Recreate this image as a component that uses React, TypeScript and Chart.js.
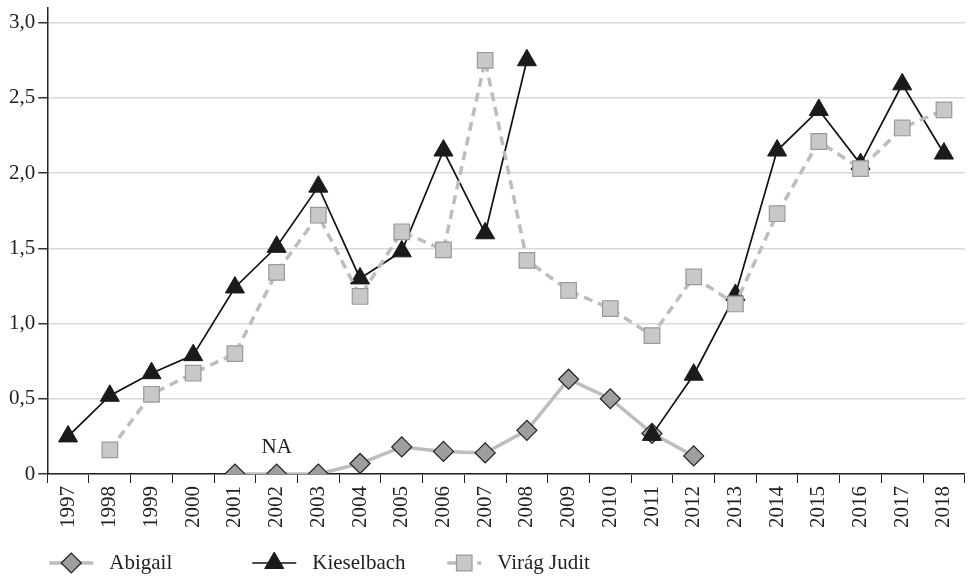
import React, { useEffect, useRef } from 'react';
import { Chart, registerables } from 'chart.js';
import { drawPoint } from 'chart.js/helpers';
Chart.register(...registerables);

const years = ['1997','1998','1999','2000','2001','2002','2003','2004','2005','2006','2007','2008','2009','2010','2011','2012','2013','2014','2015','2016','2017','2018'];
const abigail = [null,null,null,null,0,0,0,0.07,0.18,0.15,0.14,0.29,0.63,0.50,0.27,0.12,null,null,null,null,null,null];
const kieselbach = [0.25,0.52,0.67,0.79,1.24,1.51,1.91,1.30,1.48,2.15,1.60,2.75,null,null,0.26,0.66,1.19,2.15,2.42,2.06,2.59,2.13];
const viragJudit = [null,0.16,0.53,0.67,0.80,1.34,1.72,1.18,1.61,1.49,2.75,1.42,1.22,1.10,0.92,1.31,1.13,1.73,2.21,2.03,2.30,2.42];
const yTicks = [0, 0.5, 1.0, 1.5, 2.0, 2.5, 3.0];
const naLabel = { text: 'NA', category: '2002' };

const FONT = "'Liberation Serif', 'DejaVu Serif', serif";

const naPlugin = {
  id: 'naLabel',
  afterDatasetsDraw(chart: any) {
    const { ctx, scales } = chart;
    const x = scales.x.getPixelForValue(years.indexOf(naLabel.category));
    const y = scales.y.getPixelForValue(0) - 27;
    ctx.save();
    ctx.font = `21px ${FONT}`;
    ctx.fillStyle = '#222';
    ctx.textAlign = 'center';
    ctx.textBaseline = 'middle';
    ctx.fillText(naLabel.text, x, y);
    ctx.restore();
  },
};

const legendOffsets = [2, 205, 400];
const legendPlugin = {
  id: 'customLegend',
  afterDraw(chart: any) {
    const { ctx, chartArea } = chart;
    const y = chart.height - 15;
    ctx.save();
    chart.data.datasets.forEach((ds: any, i: number) => {
      const x0 = chartArea.left + legendOffsets[i];
      const lineW = i === 2 ? 34 : 44;
      ctx.save();
      ctx.strokeStyle = ds.borderColor;
      ctx.lineWidth = ds.borderWidth;
      ctx.setLineDash(ds.borderDash || []);
      ctx.beginPath();
      ctx.moveTo(x0, y);
      ctx.lineTo(x0 + lineW, y);
      ctx.stroke();
      ctx.setLineDash([]);
      ctx.fillStyle = ds.pointBackgroundColor;
      ctx.strokeStyle = ds.pointBorderColor;
      ctx.lineWidth = ds.pointBorderWidth;
      drawPoint(ctx, { pointStyle: ds.pointStyle, radius: ds.pointRadius, rotation: 0, borderWidth: ds.pointBorderWidth }, x0 + lineW / 2, y);
      ctx.restore();
      ctx.font = `21px ${FONT}`;
      ctx.fillStyle = '#222';
      ctx.textBaseline = 'middle';
      ctx.textAlign = 'left';
      ctx.fillText(ds.label, x0 + lineW + 16, y);
    });
    ctx.restore();
  },
};

export default function App() {
  const ref = useRef<HTMLCanvasElement>(null);
  useEffect(() => {
    document.body.style.margin = '0';
    document.body.style.overflow = 'hidden';
    const chart = new Chart(ref.current!, {
      type: 'line',
      data: {
        labels: years,
        datasets: [
          {
            label: 'Abigail',
            data: abigail,
            borderColor: '#bdbdbd',
            borderWidth: 3.5,
            pointStyle: 'rectRot',
            pointRadius: 10,
            pointHoverRadius: 10,
            pointBackgroundColor: '#9e9e9e',
            pointBorderColor: '#222',
            pointBorderWidth: 1.2,
            spanGaps: false,
            order: 3,
          },
          {
            label: 'Kieselbach',
            data: kieselbach,
            borderColor: '#111',
            borderWidth: 1.7,
            pointStyle: 'triangle',
            pointRadius: 11,
            pointHoverRadius: 11,
            pointBackgroundColor: '#1a1a1a',
            pointBorderColor: '#1a1a1a',
            pointBorderWidth: 1,
            spanGaps: false,
            order: 2,
          },
          {
            label: 'Virág Judit',
            data: viragJudit,
            borderColor: '#bdbdbd',
            borderWidth: 3.5,
            borderDash: [9, 6],
            pointStyle: 'rect',
            pointRadius: 11,
            pointHoverRadius: 11,
            pointBackgroundColor: '#c8c8c8',
            pointBorderColor: '#999',
            pointBorderWidth: 1.2,
            spanGaps: false,
            order: 1,
          },
        ],
      },
      options: {
        responsive: true,
        maintainAspectRatio: false,
        animation: false,
        layout: { padding: { top: 0, right: 0, bottom: 47, left: 6 } },
        plugins: { legend: { display: false }, tooltip: { enabled: false } },
        scales: {
          x: {
            offset: true,
            grid: { display: true, drawOnChartArea: false, drawTicks: true, tickLength: 9, offset: true, color: '#222' },
            border: { color: '#222', width: 1.5 },
            ticks: { minRotation: 90, maxRotation: 90, autoSkip: false, color: '#222', font: { family: FONT, size: 21 }, padding: 3 },
          },
          y: {
            min: 0,
            max: 3.1,
            afterBuildTicks: (scale: any) => { scale.ticks = yTicks.map((v) => ({ value: v })); },
            grid: { color: '#d9d9d9', lineWidth: 1.5, drawTicks: true, tickLength: 9, tickColor: '#333' },
            border: { color: '#222', width: 1.5 },
            ticks: {
              color: '#222',
              font: { family: FONT, size: 21 },
              padding: 3,
              callback: (v: any) => (Number(v) === 0 ? '0' : Number(v).toFixed(1).replace('.', ',')),
            },
          },
        },
      },
      plugins: [naPlugin, legendPlugin],
    });
    return () => chart.destroy();
  }, []);
  return (
    <div style={{ position: 'absolute', left: 0, top: -8, width: 977, height: 586 }}>
      <canvas ref={ref} />
    </div>
  );
}
